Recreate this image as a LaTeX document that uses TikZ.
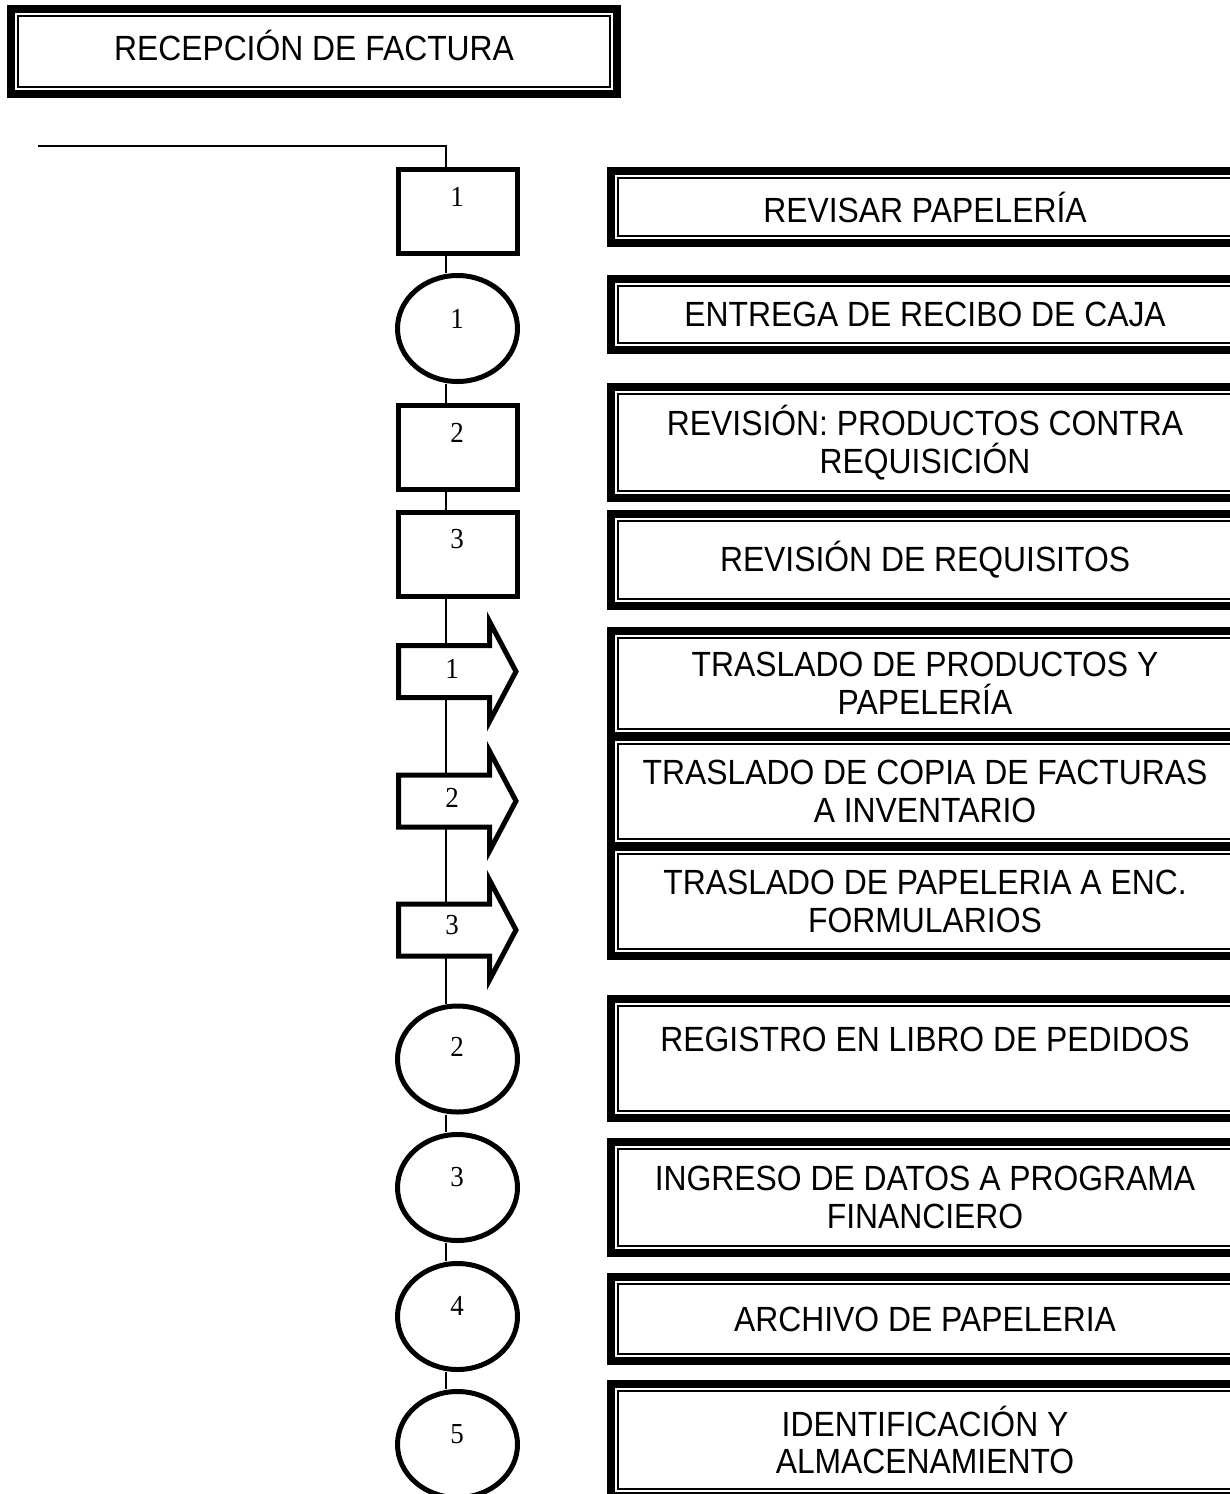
\documentclass[tikz,border=0pt]{standalone}
\usepackage{fontspec}
\setmainfont{Liberation Serif}[FakeStretch=0.93]
\newfontfamily\sansf{Liberation Sans}[FakeStretch=0.91]
\usetikzlibrary{shapes.geometric}
\tikzset{
  heavy/.style={line width=5pt},
  procbox/.style={draw, heavy, fill=white, minimum width=119pt, minimum height=84pt, inner sep=0pt},
  operell/.style={draw, heavy, fill=white, ellipse, minimum width=120pt, minimum height=106pt, inner sep=0pt},
  transline/.style={draw, heavy, fill=white, line join=miter},
  numlbl/.style={inner sep=0pt, font=\fontsize{29}{32}\selectfont},
  conn/.style={line width=1.3pt},
  framebox/.style={draw, line width=8pt, inner sep=0pt, align=center, font=\sansf\fontsize{35}{37.5}\selectfont},
  innerline/.style={line width=1.6pt}
}
\newcommand\dblbox[6]{%
  \node[framebox, minimum width=#4pt, minimum height=#5pt] (#1) at (#2,#3) {#6};
  \draw[innerline] ([xshift=11pt,yshift=-11pt]#1.north west) rectangle ([xshift=-11pt,yshift=11pt]#1.south east);
}
\newcommand\flecha[4]{% name, y centre, number, number y
  \draw[transline] (398.5,#2-26) -- (489.5,#2-26) -- (489.5,#2-50) -- (516,#2) -- (489.5,#2+50) -- (489.5,#2+26) -- (398.5,#2+26) -- cycle;
  \node[numlbl] (#1) at (452,#4) {#3};
  \coordinate (#1t) at (446,#2-26);
  \coordinate (#1b) at (446,#2+26);
}
\begin{document}
\begin{tikzpicture}[x=1pt,y=-1pt]
\useasboundingbox (0,0) rectangle (1230,1494);
\clip (0,0) rectangle (1230,1494);
\coordinate (sp) at (446,0);
\coordinate (start) at (38,146);

% title
\dblbox{title}{314}{51.5}{606}{85}{\raisebox{12pt}{RECEPCIÓN DE FACTURA}}

% right boxes
\dblbox{b1}{925}{207}{628}{72}{REVISAR PAPELERÍA}
\dblbox{b2}{925}{314.5}{628}{71}{ENTREGA DE RECIBO DE CAJA}
\dblbox{b3}{925}{442.5}{628}{111}{REVISIÓN: PRODUCTOS CONTRA\\REQUISICIÓN}
\dblbox{b4}{925}{560}{628}{92}{REVISIÓN DE REQUISITOS}
\dblbox{b5}{925}{683.5}{628}{105}{TRASLADO DE PRODUCTOS Y\\PAPELERÍA}
\dblbox{b6}{925}{791.5}{628}{109}{TRASLADO DE COPIA DE FACTURAS\\A INVENTARIO}
\dblbox{b7}{925}{901.5}{628}{109}{TRASLADO DE PAPELERIA A ENC.\\FORMULARIOS}
\dblbox{b8}{925}{1058.5}{628}{119}{REGISTRO EN LIBRO DE PEDIDOS\\\mbox{}}
\dblbox{b9}{925}{1197.5}{628}{111}{INGRESO DE DATOS A PROGRAMA\\FINANCIERO}
\dblbox{b10}{925}{1319}{628}{84}{ARCHIVO DE PAPELERIA}
\dblbox{b11}{925}{1440}{628}{112}{IDENTIFICACIÓN Y\\ALMACENAMIENTO}

% left column shapes
\node[procbox] (r1) at (458,211) {};
\node[operell] (c1) at (457.5,328.5) {};
\node[procbox] (r2) at (458,447) {};
\node[procbox] (r3) at (458,554) {};
\flecha{a1}{671.5}{1}{669}
\flecha{a2}{801}{2}{798}
\flecha{a3}{930}{3}{925}
\node[operell] (c2) at (457.5,1059) {};
\node[operell] (c3) at (457.5,1187.5) {};
\node[operell] (c4) at (457.5,1316.5) {};
\node[operell] (c5) at (457.5,1444.5) {};

% numbers
\node[numlbl] (r1n) at (457,196.5) {1};
\node[numlbl] (c1n) at (457,318.5) {1};
\node[numlbl] (r2n) at (457,432.5) {2};
\node[numlbl] (r3n) at (457,539.5) {3};
\node[numlbl] (c2n) at (457,1047) {2};
\node[numlbl] (c3n) at (457,1177) {3};
\node[numlbl] (c4n) at (457,1305.5) {4};
\node[numlbl] (c5n) at (457,1434) {5};

% connectors
\draw[conn] (start) -| (r1.north -| sp);
\draw[conn] (r1.south -| sp) -- (c1.north -| sp);
\draw[conn] (c1.south -| sp) -- (r2.north -| sp);
\draw[conn] (r2.south -| sp) -- (r3.north -| sp);
\draw[conn] (r3.south -| sp) -- (a1t);
\draw[conn] (a1b) -- (a2t);
\draw[conn] (a2b) -- (a3t);
\draw[conn] (a3b) -- (c2.north -| sp);
\draw[conn] (c2.south -| sp) -- (c3.north -| sp);
\draw[conn] (c3.south -| sp) -- (c4.north -| sp);
\draw[conn] (c4.south -| sp) -- (c5.north -| sp);
\end{tikzpicture}
\end{document}
